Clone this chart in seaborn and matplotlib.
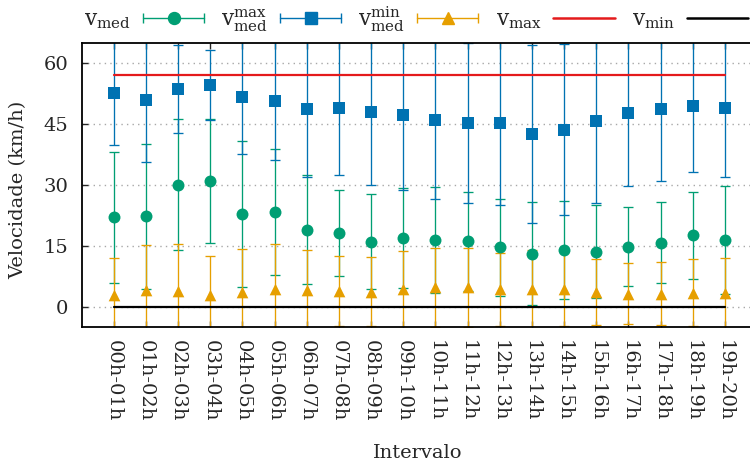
import numpy as np
import pandas as pd
import matplotlib
matplotlib.use("Agg")
import matplotlib.pyplot as plt
from matplotlib.lines import Line2D
from matplotlib.legend_handler import HandlerBase
import seaborn as sns

# Hourly intervals
intervals = ["00h-01h", "01h-02h", "02h-03h", "03h-04h", "04h-05h",
             "05h-06h", "06h-07h", "07h-08h", "08h-09h", "09h-10h",
             "10h-11h", "11h-12h", "12h-13h", "13h-14h", "14h-15h",
             "15h-16h", "16h-17h", "17h-18h", "18h-19h", "19h-20h"]

# Mean speed and its standard deviation (km/h)
v_med = [22.1, 22.3, 30.1, 31.0, 22.9, 23.3, 19.0, 18.1, 16.1, 17.0,
         16.4, 16.2, 14.7, 13.1, 14.0, 13.6, 14.8, 15.8, 17.6, 16.5]
v_med_sd = [16.1, 17.9, 16.1, 15.3, 17.9, 15.5, 13.4, 10.6, 11.7, 12.3,
            13.0, 12.2, 11.9, 12.6, 12.1, 11.5, 9.7, 9.9, 10.8, 13.2]

# Mean of the maximum speeds
v_med_max = [52.7, 50.9, 53.6, 54.7, 51.7, 50.7, 48.7, 49.0, 48.0, 47.1,
             46.0, 45.3, 45.2, 42.6, 43.6, 45.8, 47.8, 48.6, 49.5, 49.0]
v_med_max_sd = [12.9, 15.3, 10.8, 8.6, 14.0, 14.5, 16.7, 16.6, 17.9, 18.4,
                19.4, 19.7, 20.1, 21.9, 21.0, 20.2, 18.1, 17.5, 16.2, 17.1]

# Mean of the minimum speeds
v_med_min = [2.9, 4.2, 3.9, 2.9, 3.7, 4.5, 4.2, 3.9, 3.8, 4.3,
             4.8, 4.8, 4.3, 4.3, 4.5, 3.7, 3.3, 3.3, 3.5, 3.5]
v_med_min_sd = [9.2, 11.0, 11.7, 9.6, 10.6, 11.1, 9.9, 8.6, 8.5, 9.5,
                9.7, 9.8, 9.0, 9.6, 9.2, 8.2, 7.6, 7.8, 8.2, 8.6]

# Speed limits
v_max = 57
v_min = 0

GREEN = "#009E73"
BLUE = "#0072B2"
ORANGE = "#E69F00"
RED = "#E41A1C"

sns.set_theme(style="ticks")
plt.rcParams["font.family"] = ["DejaVu Serif"]
plt.rcParams["mathtext.fontset"] = "dejavuserif"

FS = 14
LEG_FS = 15.5

pos = np.arange(len(intervals))
df = pd.DataFrame({
    "pos": pos, "interval": intervals,
    "v_med": v_med, "v_med_sd": v_med_sd,
    "v_med_max": v_med_max, "v_med_max_sd": v_med_max_sd,
    "v_med_min": v_med_min, "v_med_min_sd": v_med_min_sd,
})

fig = plt.figure(figsize=(7.5, 4.7), dpi=100)
W, H = 750.0, 470.0
left, right, top, bottom = 81.7, 757.0, 42.7, 327.3
ax = fig.add_axes([left / W, (H - bottom) / H, (right - left) / W, (bottom - top) / H])

series = [
    ("v_med", "v_med_sd", GREEN, "o", 8.6),
    ("v_med_max", "v_med_max_sd", BLUE, "s", 8.6),
    ("v_med_min", "v_med_min_sd", ORANGE, "^", 8.4),
]

for col, sd, color, marker, ms in series:
    ax.errorbar(df["pos"], df[col], yerr=df[sd], fmt="none", ecolor=color,
                elinewidth=0.95, capsize=3.6, capthick=0.95, zorder=2)
for col, sd, color, marker, ms in series:
    sns.scatterplot(data=df, x="pos", y=col, ax=ax, color=color, marker=marker,
                    s=ms ** 2, linewidth=0, zorder=3, legend=False)

limits = pd.DataFrame({"pos": [pos[0], pos[-1]]})
limits["v_max"] = v_max
limits["v_min"] = v_min
sns.lineplot(data=limits, x="pos", y="v_max", ax=ax, color=RED, lw=1.6, zorder=4)
sns.lineplot(data=limits, x="pos", y="v_min", ax=ax, color="black", lw=1.6, zorder=4)

ax.set_xlim(-1, 20)
ax.set_ylim(-5, 65)
ax.set_yticks([0, 15, 30, 45, 60])
ax.set_xticks(pos)
ax.set_xticklabels(intervals, rotation=-90, ha="center", va="top", fontsize=FS)
ax.tick_params(axis="y", labelsize=FS)
ax.tick_params(direction="in", length=4.5, width=1.0, pad=9.5,
               left=True, right=True, top=True, bottom=True)
ax.tick_params(axis="x", pad=9)
for s in ax.spines.values():
    s.set_linewidth(1.3)
    s.set_color("black")

ax.yaxis.grid(True, color="#a8a8a8", lw=1.0, ls=(0, (1, 3)), zorder=0)
ax.set_axisbelow(True)

ax.set_ylabel("Velocidade (km/h)", fontsize=FS, va="center")
ax.yaxis.set_label_coords((18 - left) / (right - left), (bottom - 190) / (bottom - top))
ax.set_xlabel("Intervalo", fontsize=FS, va="center")
ax.xaxis.set_label_coords((418 - left) / (right - left), (bottom - 453) / (bottom - top))


class CappedBarHandler(HandlerBase):
    """Horizontal error bar with end caps and a centred marker."""

    def create_artists(self, legend, orig_handle, xdescent, ydescent,
                       width, height, fontsize, trans):
        y = height / 2 - ydescent
        x0, x1 = -xdescent, width - xdescent
        c = orig_handle.get_color()
        bar = Line2D([x0, x1], [y, y], color=c, lw=1.0, transform=trans)
        caps = Line2D([x0, x1], [y, y], ls="none", marker="|", ms=7,
                      mew=1.0, color=c, transform=trans)
        dot = Line2D([(x0 + x1) / 2], [y], ls="none",
                     marker=orig_handle.get_marker(),
                     ms=orig_handle.get_markersize(), color=c, mec=c,
                     transform=trans)
        return [bar, caps, dot]


h_med = Line2D([], [], color=GREEN, marker="o", ms=8.6)
h_max = Line2D([], [], color=BLUE, marker="s", ms=8.6)
h_min = Line2D([], [], color=ORANGE, marker="^", ms=8.4)
h_vmax = Line2D([], [], color=RED, lw=1.8)
h_vmin = Line2D([], [], color="black", lw=1.8)
handler = CappedBarHandler()
fig.legend(
    [h_med, h_max, h_min, h_vmax, h_vmin],
    [r"$\mathrm{v}_\mathrm{med}$", r"$\mathrm{v}_\mathrm{med}^\mathrm{max}$",
     r"$\mathrm{v}_\mathrm{med}^\mathrm{min}$", r"$\mathrm{v}_\mathrm{max}$",
     r"$\mathrm{v}_\mathrm{min}$"],
    handler_map={h_med: handler, h_max: handler, h_min: handler},
    loc="center", bbox_to_anchor=(416 / W, 1 - 19 / H), ncol=5,
    frameon=False, markerfirst=False, fontsize=LEG_FS, borderpad=0,
    handlelength=2.84, handletextpad=0.56, columnspacing=0.8,
)

fig.savefig("out.png", dpi=100)
